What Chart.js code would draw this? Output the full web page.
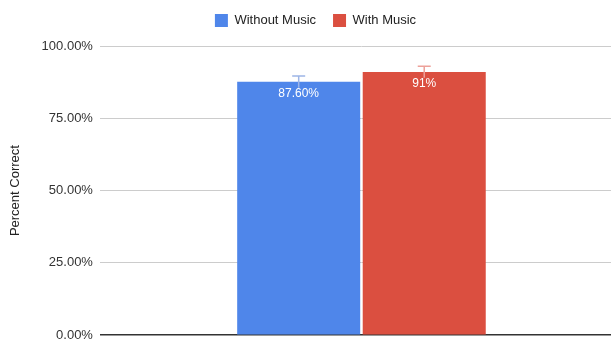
<!DOCTYPE html>
<html>
<head>
<meta charset="utf-8">
<script src="https://cdn.jsdelivr.net/npm/chart.js@4"></script>
<style>
    html, body { margin: 0; padding: 0; background: #fff; overflow: hidden; }
    #wrap { width: 623px; height: 350px; }
</style>
</head>
<body>
<div id="wrap"><canvas id="chart"></canvas></div>
<script>
const categories = [''];
const seriesNames = ['Without Music', 'With Music'];
const seriesValues = [[0.876], [0.91]];
const seriesErrors = [[0.02], [0.02]];
const valueLabels = [['87.60%'], ['91%']];
const seriesColors = ['#4f86ea', '#db4f40'];
const errorColors = ['#9db5e6', '#eda19a'];
const yTicks = [0, 0.25, 0.5, 0.75, 1];

const font = 'Liberation Sans, Arial, sans-serif';

// error bars + value labels drawn on top of the bars
const barExtras = {
    id: 'barExtras',
    afterDatasetsDraw(chart) {
        const ctx = chart.ctx;
        const y = chart.scales.y;
        chart.data.datasets.forEach((ds, i) => {
            chart.getDatasetMeta(i).data.forEach((bar, j) => {
                const v = ds.data[j];
                const e = seriesErrors[i][j];
                const top = y.getPixelForValue(v + e);
                const bottom = y.getPixelForValue(v - e);
                ctx.save();
                ctx.strokeStyle = errorColors[i];
                ctx.lineWidth = 1.5;
                ctx.beginPath();
                ctx.moveTo(bar.x, top);
                ctx.lineTo(bar.x, bottom);
                ctx.moveTo(bar.x - 6.5, top);
                ctx.lineTo(bar.x + 6.5, top);
                ctx.stroke();

                ctx.fillStyle = '#ffffff';
                ctx.font = '12px ' + font;
                ctx.textAlign = 'center';
                ctx.textBaseline = 'middle';
                ctx.fillText(valueLabels[i][j], bar.x, bar.y + 12);
                ctx.restore();
            });
        });
    }
};

// extra room under the legend
const legendGap = {
    id: 'legendGap',
    beforeInit(chart) {
        const fit = chart.legend.fit;
        chart.legend.fit = function () {
            fit.call(this);
            this.height += 9;
        };
    }
};

new Chart(document.getElementById('chart'), {
    type: 'bar',
    data: {
        labels: categories,
        datasets: seriesNames.map((name, i) => ({
            label: name,
            data: seriesValues[i],
            backgroundColor: seriesColors[i],
            barPercentage: 0.98,
            categoryPercentage: 0.48
        }))
    },
    options: {
        responsive: true,
        maintainAspectRatio: false,
        animation: false,
        layout: { padding: { top: -3, bottom: 5, left: 8, right: 0 } },
        plugins: {
            legend: {
                position: 'top',
                labels: {
                    boxWidth: 13,
                    boxHeight: 13,
                    padding: 17,
                    color: '#222',
                    font: { family: font, size: 13 }
                }
            },
            tooltip: { enabled: false }
        },
        scales: {
            x: { display: false },
            y: {
                min: 0,
                max: 1,
                afterBuildTicks: axis => { axis.ticks = yTicks.map(v => ({ value: v })); },
                ticks: {
                    padding: 7,
                    color: '#333',
                    font: { family: font, size: 13 },
                    callback: v => (v * 100).toFixed(2) + '%'
                },
                grid: {
                    drawTicks: false,
                    color: c => c.tick && c.tick.value === 0 ? '#333333' : '#cccccc',
                    lineWidth: c => c.tick && c.tick.value === 0 ? 1.5 : 1
                },
                border: { display: false },
                title: {
                    display: true,
                    text: 'Percent Correct',
                    color: '#222',
                    font: { family: font, size: 13 },
                    padding: { top: 0, bottom: 11 }
                }
            }
        }
    },
    plugins: [barExtras, legendGap]
});
</script>
</body>
</html>
